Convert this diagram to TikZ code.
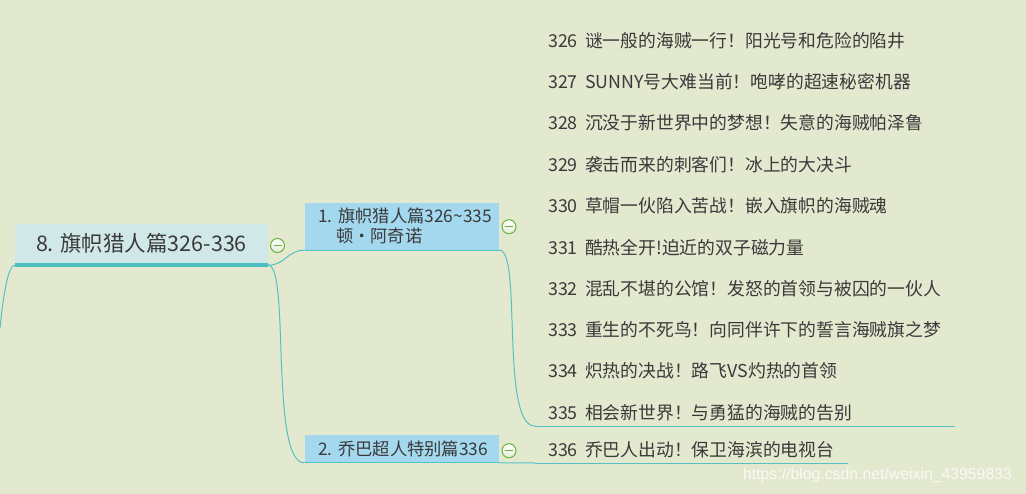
\documentclass[tikz,border=0pt]{standalone}
\usepackage{fontspec}
\setmainfont{Noto Sans CJK SC}
\newfontfamily\wmfont{Liberation Sans}
\definecolor{bg}{RGB}{226,233,207}
\definecolor{teal1}{RGB}{86,193,197}
\definecolor{tealthick}{RGB}{76,188,190}
\definecolor{rootfill}{RGB}{209,232,233}
\definecolor{subfill}{RGB}{164,216,238}
\definecolor{txt}{RGB}{58,58,58}
\definecolor{grn}{RGB}{106,176,60}
\definecolor{btmshade}{RGB}{226,236,218}
\newcommand\epnum[1]{\makebox[37pt][l]{#1}}
\tikzset{
  conn/.style={draw=teal1, line width=1pt},
  rootbox/.style={fill=rootfill, minimum width=253pt, minimum height=39pt, inner sep=0pt,
    text=txt, font=\fontsize{21.5}{24}\selectfont},
  subbox/.style={fill=subfill, text width=168pt, inner xsep=13.3pt, inner ysep=0pt, align=left,
    text=txt, font=\fontsize{17.3}{20}\selectfont},
  leaf/.style={anchor=west, inner xsep=13pt, inner ysep=0pt, minimum height=27pt, align=left,
    text=txt, font=\fontsize{17.8}{20}\selectfont},
  collapse/.style={circle, draw=grn, line width=1pt, minimum size=14pt, inner sep=0pt,
    top color=white, bottom color=btmshade,
    path picture={\draw[grn, line width=1.3pt] ([xshift=-4pt]path picture bounding box.center) -- ([xshift=4pt]path picture bounding box.center);}}
}
\begin{document}
\begin{tikzpicture}[x=1pt, y=-1pt]
\useasboundingbox (0,0) rectangle (1026,494);
\fill[bg] (0,0) rectangle (1026,494);

% root
\node[rootbox] (root) at (141.5,243.5) {8. 旗帜猎人篇326-336};
\node[collapse] (c0) at (277.5,245.5) {};

% sub nodes
\node[subbox, minimum height=47.3pt] (n1) at (402,226.35)
  {\mbox{1.~旗帜猎人篇326\textasciitilde335}\\\hspace*{18pt}顿·阿奇诺};
\node[collapse] (c1) at (509,226.7) {};
\node[subbox, minimum height=27.7pt] (n2) at (402,448.85) {\mbox{2.~乔巴超人特别篇336}};
\node[collapse] (c2) at (509,450.7) {};

% leaves
\node[leaf] (l326) at (535,40.7)  {\epnum{326}谜一般的海贼一行！阳光号和危险的陷井};
\node[leaf] (l327) at (535,82.0)  {\epnum{327}SUNNY号大难当前！咆哮的超速秘密机器};
\node[leaf] (l328) at (535,123.3) {\epnum{328}沉没于新世界中的梦想！失意的海贼帕泽鲁};
\node[leaf] (l329) at (535,164.6) {\epnum{329}袭击而来的刺客们！冰上的大决斗};
\node[leaf] (l330) at (535,205.9) {\epnum{330}草帽一伙陷入苦战！嵌入旗帜的海贼魂};
\node[leaf] (l331) at (535,247.2) {\epnum{331}酷热全开!迫近的双子磁力量};
\node[leaf] (l332) at (535,288.5) {\epnum{332}混乱不堪的公馆！发怒的首领与被囚的一伙人};
\node[leaf] (l333) at (535,329.8) {\epnum{333}重生的不死鸟！向同伴许下的誓言海贼旗之梦};
\node[leaf] (l334) at (535,371.1) {\epnum{334}炽热的决战！路飞VS灼热的首领};
\node[leaf, text width=394pt] (l335) at (535,412.4) {\epnum{335}相会新世界！与勇猛的海贼的告别};
\node[leaf, text width=287pt] (l336) at (535,449.3) {\epnum{336}乔巴人出动！保卫海滨的电视台};

% underlines
\draw[line width=4pt, draw=tealthick] ([yshift=-2pt]root.south west) -- ([yshift=-2pt]root.south east);
\draw[conn] (n1.south west) -- (n1.south east);
\draw[conn] (n2.south west) -- (n2.south east);
\draw[conn] (l335.south west) -- (l335.south east);
\draw[conn] (l336.south west) -- (l336.south east);

% connectors
\coordinate (lout) at (0,328);
\draw[conn] ([yshift=-2pt]root.south west) .. controls +(-7,0) and +(3,-30) .. (lout);
\draw[conn] ([yshift=-2pt]root.south east) .. controls +(17,0) and +(-17,0) .. (n1.south west);
\draw[conn] ([yshift=-2pt]root.south east) .. controls +(22,0) and +(-35,0) .. (n2.south west);
\draw[conn] (n1.south east) .. controls +(22.7,0) and +(-35,0) .. (l335.south west);
\draw[conn] (n2.south east) -- (l336.south west);

% watermark
\node[font=\wmfont\fontsize{15.8}{18}\selectfont, text=white, opacity=0.8] (wm) at (877.5,475)
  {https://blog.csdn.net/weixin\_43959833};
\end{tikzpicture}
\end{document}
